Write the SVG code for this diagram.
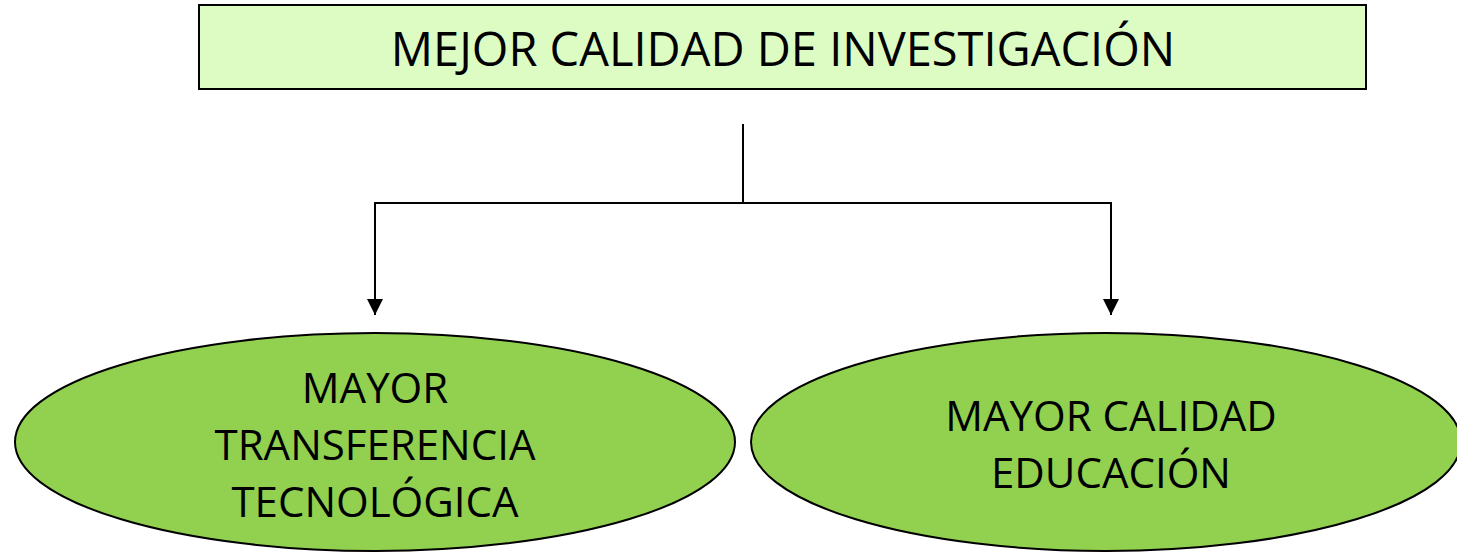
<svg xmlns="http://www.w3.org/2000/svg" width="1457" height="554" viewBox="0 0 1457 554">
<style>
text{font-family:"Open Sans","Liberation Sans",sans-serif;fill:#000;text-anchor:middle}
.h{font-size:47px}
.e{font-size:42px}
.ell{fill:#92d050;stroke:#000;stroke-width:2}
.ln{fill:none;stroke:#000;stroke-width:2}
</style>
<defs>
<marker id="ah" viewBox="0 0 10 10" refX="10" refY="5" markerWidth="8" markerHeight="8" markerUnits="strokeWidth" orient="auto">
<path d="M0,0 L10,5 L0,10 z" fill="#000"/>
</marker>
</defs>
<g id="top">
<rect x="199" y="5" width="1167" height="84" fill="#dcfcc4" stroke="#000" stroke-width="2"/>
<text class="h" x="783" y="66">MEJOR CALIDAD DE INVESTIGACIÓN</text>
</g>
<g id="connectors">
<path class="ln" d="M743,124 V203"/>
<path class="ln" d="M743,203 H375 V315" marker-end="url(#ah)"/>
<path class="ln" d="M743,203 H1111 V315" marker-end="url(#ah)"/>
</g>
<g id="left">
<ellipse class="ell" cx="375" cy="442" rx="360" ry="109"/>
<text class="e" x="375" y="403">MAYOR</text>
<text class="e" x="375" y="460">TRANSFERENCIA</text>
<text class="e" x="375" y="517">TECNOLÓGICA</text>
</g>
<g id="right">
<ellipse class="ell" cx="1106" cy="442" rx="355" ry="109"/>
<text class="e" x="1111" y="431">MAYOR CALIDAD</text>
<text class="e" x="1111" y="488">EDUCACIÓN</text>
</g>
</svg>
